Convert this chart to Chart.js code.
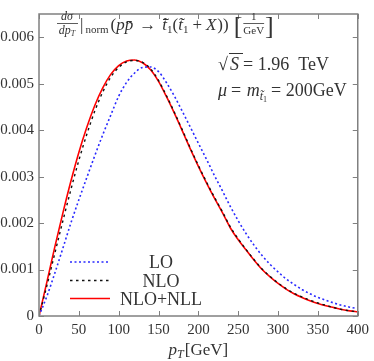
<!DOCTYPE html>
<html>
<head>
<meta charset="utf-8">
<script src="https://cdn.jsdelivr.net/npm/chart.js@4.4.1/dist/chart.umd.min.js"></script>
<style>
  html, body { margin: 0; padding: 0; background: #fff; }
  #wrap { width: 374px; height: 361px; position: relative; }
</style>
</head>
<body>
<div id="wrap"><canvas id="c" width="374" height="361"></canvas></div>
<script>
// ---- data ----
const pT = [0,10,20,30,40,50,60,70,80,90,100,110,120,130,140,150,160,170,180,190,200,
            210,220,230,240,250,260,270,280,290,300,310,320,330,340,350,360,370,380,390,400];
const LO = [0,0.00043,0.00093,0.00146,0.00200,0.00250,0.00298,0.00345,0.00390,0.00432,0.00473,
            0.00503,0.00523,0.00535,0.00536,0.00526,0.00502,0.00473,0.00440,0.00406,0.00372,
            0.00338,0.00303,0.00270,0.00236,0.00205,0.00177,0.00152,0.00130,0.00111,0.00095,
            0.00080,0.00068,0.00057,0.00048,0.00040,0.00034,0.00028,0.00023,0.00019,0.00016];
const NLO = [0,0.00066,0.00136,0.00205,0.00272,0.00335,0.00391,0.00441,0.00482,0.00514,0.00535,
             0.00547,0.00550,0.00546,0.00532,0.00507,0.00474,0.00438,0.00400,0.00361,0.00324,
             0.00289,0.00256,0.00225,0.00192,0.00166,0.00143,0.00121,0.00101,0.00085,0.00071,
             0.00059,0.00049,0.00041,0.00034,0.00028,0.00023,0.00018,0.00014,0.00011,0.00009];
const NLONLL = [0,0.00074,0.00150,0.00222,0.00290,0.00352,0.00406,0.00453,0.00491,0.00520,0.00539,
                0.00549,0.00551,0.00545,0.00530,0.00505,0.00472,0.00436,0.00398,0.00359,0.00322,
                0.00287,0.00254,0.00223,0.00190,0.00164,0.00142,0.00120,0.00100,0.00084,0.00070,
                0.00058,0.00048,0.00040,0.00033,0.00027,0.00022,0.00018,0.00014,0.00011,0.00009];
const xTicks = [0,50,100,150,200,250,300,350,400];
const yTicks = [0,0.001,0.002,0.003,0.004,0.005,0.006];
const yTickLabels = ['0','0.001','0.002','0.003','0.004','0.005','0.006'];
const seriesNames = ['LO','NLO','NLO+NLL'];

const SERIF = "'Liberation Serif','DejaVu Serif',serif";
const TXT = '#333';
const FRAME = '#808080';

function pts(ys){ return pT.map((x,i)=>({x:x, y:ys[i]})); }

function drawRuns(ctx, x, y, runs) {
  let cx = x;
  for (const r of runs) {
    ctx.font = r.f;
    ctx.fillText(r.t, cx, y + (r.dy || 0));
    cx += ctx.measureText(r.t).width + (r.gap || 0);
  }
  return cx;
}
function runsWidth(ctx, runs){
  let w = 0;
  for (const r of runs){ ctx.font = r.f; w += ctx.measureText(r.t).width + (r.gap||0); }
  return w;
}

const decor = {
  id: 'decor',
  afterDraw(chart) {
    const ctx = chart.ctx;
    const a = chart.chartArea;
    const xs = chart.scales.x, ys = chart.scales.y;
    ctx.save();
    // frame
    ctx.strokeStyle = FRAME; ctx.lineWidth = 1.5; ctx.setLineDash([]);
    ctx.strokeRect(a.left, a.top, a.right - a.left, a.bottom - a.top);
    // inward ticks
    ctx.lineWidth = 1;
    const tl = 5;
    ctx.beginPath();
    for (const v of xTicks) {
      const px = Math.round(xs.getPixelForValue(v)) + 0.5;
      ctx.moveTo(px, a.bottom); ctx.lineTo(px, a.bottom - tl);
      ctx.moveTo(px, a.top); ctx.lineTo(px, a.top + tl);
    }
    for (const v of yTicks) {
      const py = Math.round(ys.getPixelForValue(v)) + 0.5;
      ctx.moveTo(a.left, py); ctx.lineTo(a.left + tl, py);
      ctx.moveTo(a.right, py); ctx.lineTo(a.right - tl, py);
    }
    ctx.stroke();

    ctx.fillStyle = TXT;
    ctx.textBaseline = 'alphabetic';
    ctx.textAlign = 'left';

    // x-axis title  p_T [GeV]
    const xt = [
      {t:'p', f:'italic 17px '+SERIF},
      {t:'T', f:'italic 12px '+SERIF, dy:3, gap:1},
      {t:'[GeV]', f:'17px '+SERIF}
    ];
    const xw = runsWidth(ctx, xt);
    drawRuns(ctx, (a.left + a.right)/2 - xw/2, 355, xt);

    // top formula
    ctx.font = 'italic 12px ' + SERIF;
    ctx.textAlign = 'center';
    ctx.fillText('dσ', 67, 20);
    ctx.textAlign = 'left';
    const den = [{t:'dp', f:'italic 12px '+SERIF},{t:'T', f:'italic 8px '+SERIF, dy:2}];
    const dw = runsWidth(ctx, den);
    drawRuns(ctx, 67 - dw/2, 34, den);
    ctx.strokeStyle = TXT; ctx.lineWidth = 0.8;
    ctx.beginPath(); ctx.moveTo(57, 23.5); ctx.lineTo(78, 23.5); ctx.stroke();
    let cx = drawRuns(ctx, 80, 30, [
      {t:'|', f:'17px '+SERIF, gap:2},
      {t:'norm', f:'11px '+SERIF, dy:3, gap:2},
      {t:'(', f:'17px '+SERIF},
      {t:'p', f:'italic 17px '+SERIF},
      {t:'p\u0304', f:'italic 17px '+SERIF, gap:6},
      {t:'\u2192', f:'17px '+SERIF, gap:6},
      {t:'t\u0303\u0304', f:'italic 17px '+SERIF},
      {t:'1', f:'11px '+SERIF, dy:3},
      {t:'(', f:'17px '+SERIF},
      {t:'t\u0303', f:'italic 17px '+SERIF},
      {t:'1', f:'11px '+SERIF, dy:3, gap:4},
      {t:'+', f:'17px '+SERIF, gap:4},
      {t:'X', f:'italic 17px '+SERIF, gap:1},
      {t:'))', f:'17px '+SERIF, gap:5}
    ]);
    ctx.font = '26px ' + SERIF;
    ctx.fillText('[', cx, 34);
    cx += ctx.measureText('[').width + 1;
    ctx.font = '11px ' + SERIF;
    const gw = ctx.measureText('GeV').width;
    ctx.textAlign = 'center';
    ctx.fillText('1', cx + gw/2, 20);
    ctx.fillText('GeV', cx + gw/2, 34);
    ctx.beginPath(); ctx.moveTo(cx, 23.5); ctx.lineTo(cx + gw, 23.5); ctx.stroke();
    ctx.textAlign = 'left';
    ctx.font = '26px ' + SERIF;
    ctx.fillText(']', cx + gw + 1, 34);

    // sqrt(S) = 1.96 TeV
    ctx.font = '18px ' + SERIF;
    ctx.fillText('\u221A', 218, 70);
    ctx.beginPath(); ctx.moveTo(229, 53.5); ctx.lineTo(243, 53.5); ctx.lineWidth = 1; ctx.stroke();
    drawRuns(ctx, 230, 70, [
      {t:'S', f:'italic 18px '+SERIF, gap:4},
      {t:'= 1.96  TeV', f:'18px '+SERIF}
    ]);
    // mu = m_t1 = 200GeV
    drawRuns(ctx, 218, 96, [
      {t:'\u03BC', f:'italic 18px '+SERIF, gap:4},
      {t:'= ', f:'18px '+SERIF, gap:1},
      {t:'m', f:'italic 18px '+SERIF},
      {t:'t\u0303', f:'italic 12px '+SERIF, dy:4},
      {t:'1', f:'8px '+SERIF, dy:6, gap:4},
      {t:'= 200GeV', f:'18px '+SERIF}
    ]);

    // legend
    const rows = [262, 280.5, 298.5];
    chart.data.datasets.forEach((ds, i) => {
      ctx.strokeStyle = ds.borderColor;
      ctx.lineWidth = ds.borderWidth;
      ctx.setLineDash(ds.borderDash || []);
      ctx.beginPath(); ctx.moveTo(70, rows[i]); ctx.lineTo(110, rows[i]); ctx.stroke();
      ctx.setLineDash([]);
      ctx.font = '18px ' + SERIF;
      ctx.textAlign = 'center';
      ctx.fillStyle = TXT;
      ctx.fillText(ds.label, 161, rows[i] + 6);
    });
    ctx.restore();
  }
};

new Chart(document.getElementById('c'), {
  type: 'line',
  data: {
    datasets: [
      { label: seriesNames[0], data: pts(LO), borderColor: '#2a2aff', borderWidth: 1.6,
        borderDash: [2, 2.5], pointRadius: 0, fill: false, cubicInterpolationMode: 'monotone' },
      { label: seriesNames[1], data: pts(NLO), borderColor: '#111', borderWidth: 1.4,
        borderDash: [2.5, 3.5], pointRadius: 0, fill: false, cubicInterpolationMode: 'monotone' },
      { label: seriesNames[2], data: pts(NLONLL), borderColor: '#ff0000', borderWidth: 1.6,
        pointRadius: 0, fill: false, cubicInterpolationMode: 'monotone' }
    ]
  },
  options: {
    responsive: false,
    animation: false,
    devicePixelRatio: 1,
    layout: { padding: { top: 1, right: 11, left: 0, bottom: 0 } },
    plugins: { legend: { display: false }, tooltip: { enabled: false }, title: { display: false } },
    scales: {
      x: {
        type: 'linear', min: 0, max: 400,
        afterFit(s) { s.height = 45; },
        afterBuildTicks(s) { s.ticks = xTicks.map(v => ({value: v})); },
        grid: { display: false, drawTicks: false },
        border: { display: false },
        ticks: { padding: 5, color: TXT, font: { family: SERIF, size: 15 }, maxRotation: 0,
                 callback: v => String(v) }
      },
      y: {
        type: 'linear', min: 0, max: 0.0065,
        afterFit(s) { s.width = 39; },
        afterBuildTicks(s) { s.ticks = yTicks.map(v => ({value: v})); },
        grid: { display: false, drawTicks: false },
        border: { display: false },
        ticks: { padding: 5, color: TXT, font: { family: SERIF, size: 15 },
                 callback: (v) => { const i = yTicks.findIndex(t => Math.abs(t - v) < 1e-9); return i >= 0 ? yTickLabels[i] : ''; } }
      }
    }
  },
  plugins: [decor]
});
</script>
</body>
</html>
